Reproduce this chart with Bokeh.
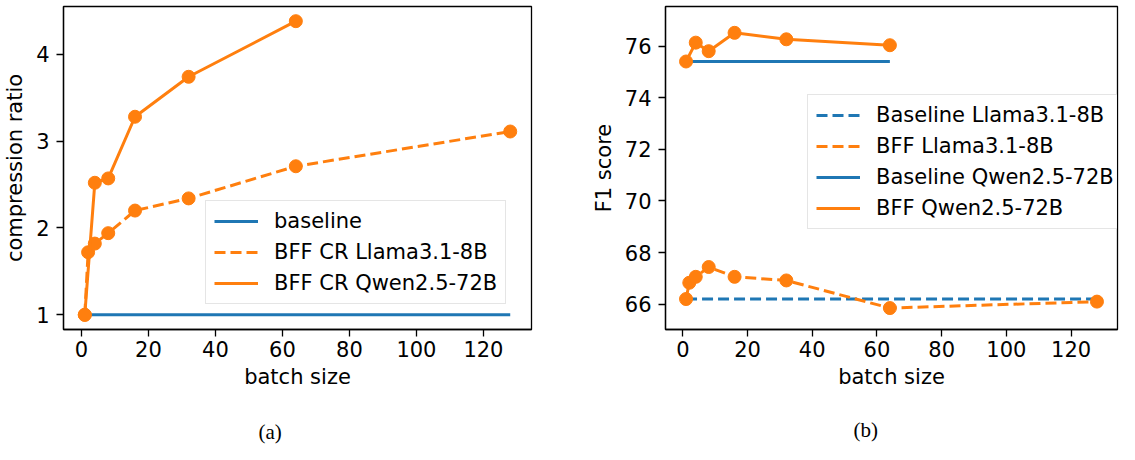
from bokeh.plotting import figure
from bokeh.layouts import row
from bokeh.models import Legend, LegendItem, Range1d, FixedTicker, Title
from bokeh.embed import file_html
from bokeh.resources import INLINE

# ---- data (a) compression ratio ----
bs_llama = [1, 2, 4, 8, 16, 32, 64, 128]
cr_llama = [1.0, 1.72, 1.82, 1.94, 2.20, 2.34, 2.71, 3.11]
bs_qwen = [1, 4, 8, 16, 32, 64]
cr_qwen = [1.0, 2.52, 2.57, 3.28, 3.74, 4.38]
bs_baseline_a = [1, 128]
cr_baseline = [1.0, 1.0]

# ---- data (b) F1 score ----
f1_llama = [66.2, 66.83, 67.06, 67.44, 67.06, 66.92, 65.85, 66.10]
f1_qwen = [75.4, 76.13, 75.80, 76.51, 76.26, 76.03]
bs_base_llama = [1, 128]
f1_base_llama = [66.2, 66.2]
bs_base_qwen = [1, 64]
f1_base_qwen = [75.4, 75.4]

x_ticks = [0, 20, 40, 60, 80, 100, 120]
y_ticks_a = [1, 2, 3, 4]
y_ticks_b = [66, 68, 70, 72, 74, 76]
captions = ["(a)", "(b)"]

BLUE = "#1f77b4"
ORANGE = "#ff7f0e"
FONT = "DejaVu Sans"
FS = "21px"
LW = 3
MS = 13
DASH = "11 5"


def style(p, xt, yt, ylabel):
    p.xaxis.ticker = FixedTicker(ticks=xt)
    p.yaxis.ticker = FixedTicker(ticks=yt)
    p.xgrid.visible = False
    p.ygrid.visible = False
    p.outline_line_color = "black"
    p.outline_line_width = 1.3
    p.outline_line_alpha = 1
    for ax in (p.xaxis[0], p.yaxis[0]):
        ax.major_tick_out = 7
        ax.major_tick_in = 0
        ax.minor_tick_out = 0
        ax.minor_tick_in = 0
        ax.major_tick_line_width = 1.3
        ax.axis_line_width = 1.3
        ax.major_label_text_font = FONT
        ax.major_label_text_font_size = FS
        ax.major_label_text_color = "black"
        ax.axis_label_text_font = FONT
        ax.axis_label_text_font_size = FS
        ax.axis_label_text_font_style = "normal"
        ax.axis_label_text_color = "black"
    p.xaxis.major_label_standoff = 4
    p.yaxis.major_label_standoff = 7
    p.xaxis.axis_label = "batch size"
    p.yaxis.axis_label = ylabel
    p.xaxis.axis_label_standoff = 5
    p.yaxis.axis_label_standoff = 6


def make_legend(items, loc):
    lg = Legend(items=items, location=loc)
    lg.label_text_font = FONT
    lg.label_text_font_size = FS
    lg.label_text_color = "black"
    lg.glyph_width = 44
    lg.glyph_height = 24
    lg.label_height = 24
    lg.label_standoff = 16
    lg.spacing = 7
    lg.padding = 8
    lg.margin = 0
    lg.border_line_color = "#cccccc"
    lg.border_line_width = 1.3
    lg.background_fill_color = "white"
    lg.background_fill_alpha = 0.8
    return lg


def caption(p, text, offset, gap):
    # spacer between the axis label and the caption
    p.add_layout(Title(text=" ", text_font_size="10px", standoff=gap), "below")
    p.add_layout(Title(text=text, align="left", offset=offset, vertical_align="bottom",
                       text_font="Liberation Serif", text_font_size="21px",
                       text_font_style="normal", text_color="black",
                       standoff=2), "below")


# ---------------- figure (a) ----------------
pa = figure(width=560, height=444, output_backend="svg", toolbar_location=None,
            min_border_left=58, min_border_right=29, min_border_top=0, min_border_bottom=113,
            x_range=Range1d(-5.35, 134.35), y_range=Range1d(0.831, 4.549))
style(pa, x_ticks, y_ticks_a, "compression ratio")

ra0 = pa.line(bs_baseline_a, cr_baseline, line_color=BLUE, line_width=LW)
ra1 = pa.line(bs_llama, cr_llama, line_color=ORANGE, line_width=LW, line_dash=DASH)
pa.scatter(bs_llama, cr_llama, size=MS, color=ORANGE)
ra2 = pa.line(bs_qwen, cr_qwen, line_color=ORANGE, line_width=LW)
pa.scatter(bs_qwen, cr_qwen, size=MS, color=ORANGE)

pa.add_layout(make_legend([
    LegendItem(label="baseline", renderers=[ra0]),
    LegendItem(label="BFF CR Llama3.1-8B", renderers=[ra1]),
    LegendItem(label="BFF CR Qwen2.5-72B", renderers=[ra2]),
], (142, 25)))
caption(pa, captions[0], 195, 12)

# ---------------- figure (b) ----------------
pb = figure(width=559, height=444, output_backend="svg", toolbar_location=None,
            min_border_left=105, min_border_right=2, min_border_top=6, min_border_bottom=111,
            x_range=Range1d(-5.35, 134.35), y_range=Range1d(65.02, 77.53))
style(pb, x_ticks, y_ticks_b, "F1 score")

rb0 = pb.line(bs_base_llama, f1_base_llama, line_color=BLUE, line_width=LW, line_dash=DASH)
rb1 = pb.line(bs_llama, f1_llama, line_color=ORANGE, line_width=LW, line_dash=DASH)
pb.scatter(bs_llama, f1_llama, size=MS, color=ORANGE)
rb2 = pb.line(bs_base_qwen, f1_base_qwen, line_color=BLUE, line_width=LW)
rb3 = pb.line(bs_qwen, f1_qwen, line_color=ORANGE, line_width=LW)
pb.scatter(bs_qwen, f1_qwen, size=MS, color=ORANGE)

pb.add_layout(make_legend([
    LegendItem(label="Baseline Llama3.1-8B", renderers=[rb0]),
    LegendItem(label="BFF Llama3.1-8B", renderers=[rb1]),
    LegendItem(label="Baseline Qwen2.5-72B", renderers=[rb2]),
    LegendItem(label="BFF Qwen2.5-72B", renderers=[rb3]),
], (142, 100)))
caption(pb, captions[1], 188, 10)

layout = row(pa, pb)
open("out.html", "w").write(file_html(layout, INLINE))
